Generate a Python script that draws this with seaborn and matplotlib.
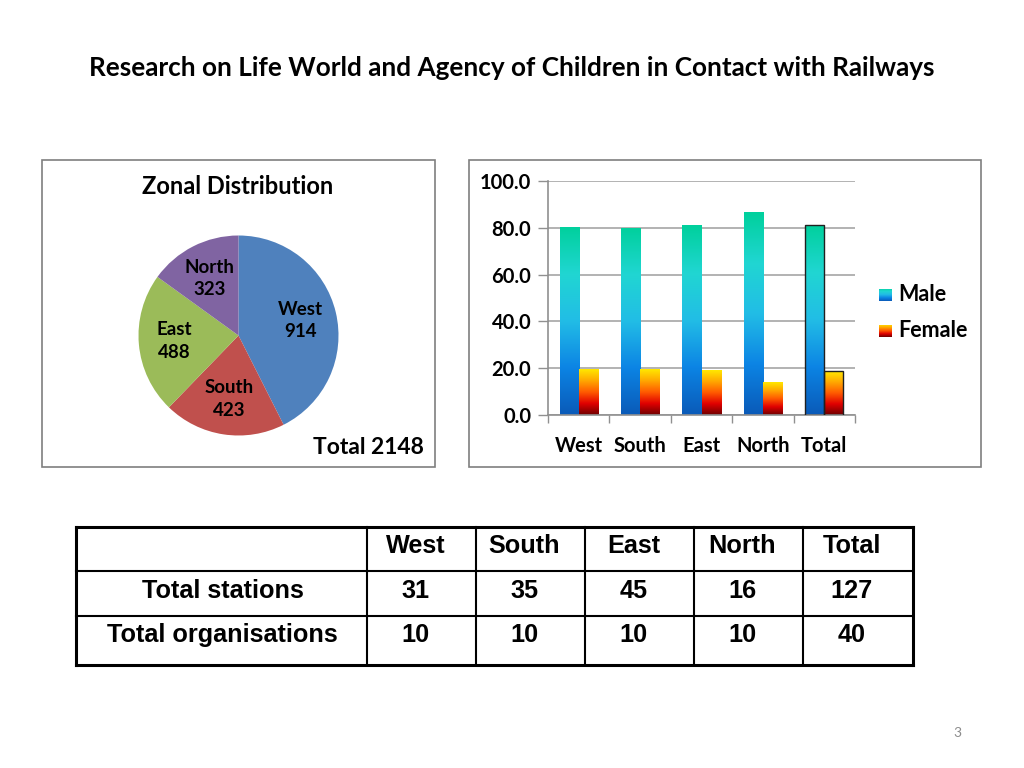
import numpy as np
import pandas as pd
import seaborn as sns
import matplotlib.pyplot as plt
from matplotlib.colors import LinearSegmentedColormap
from matplotlib.patches import Rectangle

# data
zones = ['West', 'South', 'East', 'North']
zone_counts = [914, 423, 488, 323]
zone_colors = ['#4F81BD', '#C0504D', '#9BBB59', '#8064A2']

bar_cats = ['West', 'South', 'East', 'North', 'Total']
male_pct = [80.4, 80.0, 81.1, 86.7, 81.2]
female_pct = [19.5, 19.5, 19.1, 14.0, 18.6]

table_cols = ['West', 'South', 'East', 'North', 'Total']
total_stations = [31, 35, 45, 16, 127]
total_orgs = [10, 10, 10, 10, 40]

W, H = 1024, 768


def box(l, t, r, b):
    return [l / W, 1 - b / H, (r - l) / W, (b - t) / H]


sns.set_theme(style='white')
plt.rcParams['font.family'] = ['Lato', 'DejaVu Sans']
plt.rcParams['text.color'] = 'black'
plt.rcParams['xtick.labelcolor'] = 'black'
plt.rcParams['ytick.labelcolor'] = 'black'

male_cmap = LinearSegmentedColormap.from_list(
    'male', ['#0A5AB8', '#0C84E4', '#22BDE6', '#20D6D2', '#00D09C'])
female_cmap = LinearSegmentedColormap.from_list(
    'female', ['#6E0000', '#E00000', '#FF5A00', '#FFA800', '#FFE800'])
grad = np.linspace(0, 1, 256).reshape(-1, 1)

fig = plt.figure(figsize=(W / 100, H / 100), dpi=100)

fig.text(512 / W, 1 - 68 / H,
         'Research on Life World and Agency of Children in Contact with Railways',
         ha='center', va='center', fontsize=18.8, fontweight='bold')

# panel frames
for l, t, r, b in [(42, 160, 435, 467), (469, 160, 981, 467)]:
    fig.patches.append(Rectangle((l / W, 1 - b / H), (r - l) / W, (b - t) / H,
                                 transform=fig.transFigure, fill=False,
                                 edgecolor='#7f7f7f', linewidth=1.2))

# pie
ax_pie = fig.add_axes(box(138.5, 235.5, 338.5, 435.5))
wedges, texts = ax_pie.pie(zone_counts, colors=zone_colors, startangle=90,
                           counterclock=False,
                           labels=[f'{z}\n{c}' for z, c in zip(zones, zone_counts)],
                           labeldistance=0.64, wedgeprops=dict(linewidth=0),
                           textprops=dict(fontsize=13.5, fontweight='bold'))
for t in texts:
    t.set_ha('center')
    t.set_va('center')
    t.set_linespacing(1.4)
ax_pie.set_xlim(-1, 1)
ax_pie.set_ylim(-1, 1)
ax_pie.set_aspect('equal')
ax_pie.axis('off')

fig.text(238 / W, 1 - 187 / H, 'Zonal Distribution', ha='center', va='center',
         fontsize=17, fontweight='bold')
fig.text(368 / W, 1 - 447 / H, f'Total {sum(zone_counts)}', ha='center',
         va='center', fontsize=16.5, fontweight='bold')

# bars
df = pd.DataFrame({'zone': bar_cats, 'Male': male_pct, 'Female': female_pct})
df = df.melt(id_vars='zone', var_name='sex', value_name='pct')

ax = fig.add_axes(box(548, 181, 855, 415))
sns.barplot(data=df, x='zone', y='pct', hue='sex', order=bar_cats,
            hue_order=['Male', 'Female'],
            palette={'Male': '#1f77b4', 'Female': '#d62728'},
            width=0.62, gap=0, legend=False, ax=ax)

for p in list(ax.patches):
    x0, y0 = p.get_x(), p.get_y()
    w, h = p.get_width(), p.get_height()
    cmap = female_cmap if p.get_facecolor()[0] > 0.5 else male_cmap
    im = ax.imshow(grad, extent=[x0, x0 + w, y0, y0 + h], aspect='auto',
                   cmap=cmap, origin='lower', zorder=2)
    im.set_clip_path(p)
    p.set_facecolor('none')
    if abs(x0 + w / 2 - 4) < 0.5:
        p.set_edgecolor('#202020')
        p.set_linewidth(1.0)
        p.set_zorder(3)
    else:
        p.set_edgecolor('none')

ax.set_xlim(-0.5, 4.5)
ax.set_ylim(0, 100)
ax.set_yticks([0, 20, 40, 60, 80, 100])
ax.set_yticklabels([f'{v:.1f}' for v in [0, 20, 40, 60, 80, 100]],
                   fontsize=14.5, fontweight='bold')
ax.set_xticks(range(5))
ax.set_xticklabels(bar_cats, fontsize=14.5, fontweight='bold')
ax.set_xticks(np.arange(-0.5, 5, 1), minor=True)
ax.tick_params(axis='x', which='major', length=0, pad=15)
ax.tick_params(axis='x', which='minor', length=6, color='#909090', width=1,
               direction='out', bottom=True)
ax.tick_params(axis='y', length=7, color='#909090', width=1, direction='out',
               left=True, pad=5)
ax.yaxis.grid(True, color='#a6a6a6', linewidth=1.2)
ax.set_axisbelow(True)
for s in ['top', 'right']:
    ax.spines[s].set_visible(False)
for s in ['left', 'bottom']:
    ax.spines[s].set_color('#909090')
    ax.spines[s].set_linewidth(1.2)
ax.set_xlabel('')
ax.set_ylabel('')

# legend
for label, cmap, cy in [('Male', male_cmap, 295), ('Female', female_cmap, 331)]:
    lax = fig.add_axes(box(879, cy - 6.5, 892, cy + 6.5))
    lax.imshow(grad, aspect='auto', cmap=cmap, origin='lower')
    lax.axis('off')
    fig.text(898 / W, 1 - cy / H, label, ha='left', va='center',
             fontsize=15.5, fontweight='bold')

# table
tx = [76, 367, 476, 585, 694, 803, 913]
ty = [527, 571, 616, 665]
tax = fig.add_axes(box(70, 520, 920, 672))
tax.set_xlim(70, 920)
tax.set_ylim(672, 520)
tax.axis('off')
for i, x in enumerate(tx):
    lw = 2.2 if i in (0, len(tx) - 1) else 1.5
    tax.plot([x, x], [ty[0], ty[-1]], color='black', linewidth=lw,
             solid_capstyle='projecting')
for i, y in enumerate(ty):
    lw = 2.2 if i in (0, len(ty) - 1) else 1.5
    tax.plot([tx[0], tx[-1]], [y, y], color='black', linewidth=lw,
             solid_capstyle='projecting')

tfont = dict(fontsize=18.2, fontweight='bold', family='Liberation Sans',
             ha='center', va='center')
rows = [('', table_cols, 546), ('Total stations', total_stations, 591),
        ('Total organisations', total_orgs, 635)]
for name, vals, y in rows:
    tax.text((tx[0] + tx[1]) / 2 + 1, y, name, **tfont)
    for j, v in enumerate(vals):
        tax.text((tx[j + 1] + tx[j + 2]) / 2 - 6, y, str(v), **tfont)

fig.text(957 / W, 1 - 733 / H, '3', ha='center', va='center', fontsize=10,
         color='#8c8c8c')

fig.savefig('out.png', dpi=100)
